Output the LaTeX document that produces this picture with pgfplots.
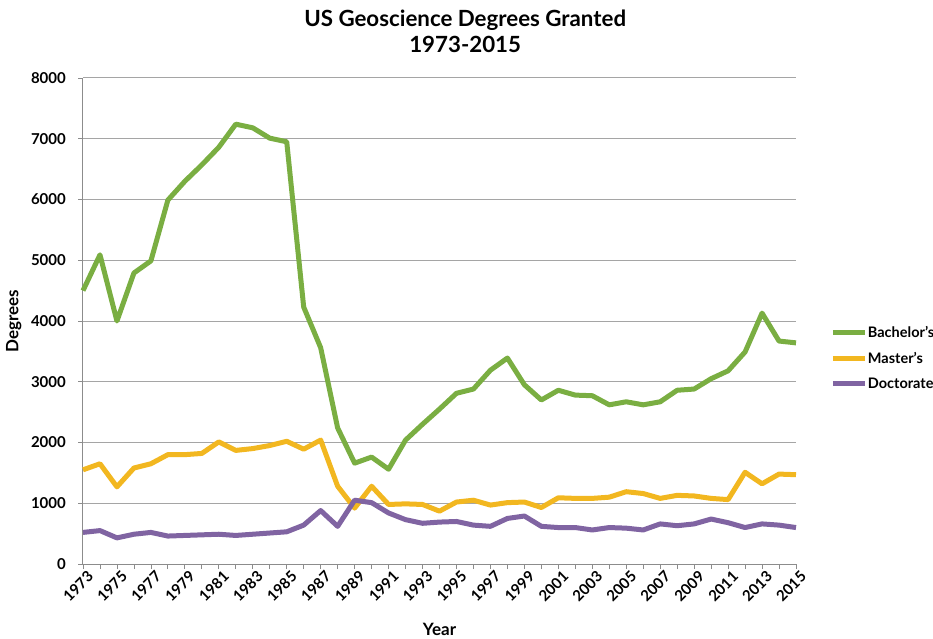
\documentclass[border=0pt]{standalone}
\usepackage{pgfplots}
\pgfplotsset{compat=1.18}
\usepackage{fontspec}
\setmainfont{Lato}
\definecolor{cB}{RGB}{122,174,66}
\definecolor{cM}{RGB}{242,183,32}
\definecolor{cD}{RGB}{128,100,162}
\definecolor{gridc}{RGB}{165,165,165}
\definecolor{axc}{RGB}{140,140,140}
\begin{document}
\begin{tikzpicture}
\begin{axis}[
  scale only axis,
  width=713bp, height=486bp,
  xmin=1973, xmax=2015, ymin=0, ymax=8000,
  axis lines*=left,
  axis line style={axc, line width=1bp},
  xtick={1973,1975,...,2015},
  minor xtick={1974,1976,...,2014},
  ytick={0,1000,...,8000},
  tick align=outside,
  major tick length=5bp, minor tick length=5bp,
  tick style={axc, line width=0.8bp},
  ymajorgrids,
  grid style={gridc, line width=1bp},
  /pgf/number format/assume math mode=true,
  xticklabel={\pgfmathprintnumber[1000 sep={}]{\tick}},
  yticklabel={\pgfmathprintnumber[1000 sep={}]{\tick}},
  ticklabel style={font=\fontsize{15bp}{17bp}\selectfont\bfseries},
  xticklabel style={rotate=45, anchor=north east, inner sep=1bp, xshift=3bp, yshift=-2bp},
  yticklabel style={inner sep=2bp, xshift=-10bp},
  xlabel={Year}, ylabel={Degrees},
  label style={font=\fontsize{17bp}{19bp}\selectfont\bfseries},
  xlabel style={at={(0.5,-0.134)}, anchor=center},
  ylabel style={at={(-0.097,0.5)}, anchor=center},
  title style={font=\fontsize{22.3bp}{26bp}\selectfont\bfseries, align=center, anchor=south,
    at={(0.536,1)}, yshift=16bp},
  title={US Geoscience Degrees Granted\\1973-2015},
  legend style={draw=none, fill=none, at={(1.048,0.424)}, anchor=west,
    font=\fontsize{14.5bp}{16bp}\selectfont\bfseries, row sep=12bp, inner sep=0pt,
    nodes={inner sep=0.5bp}},
  legend cell align=left,
  legend image code/.code={\draw[#1, line width=5bp] (0bp,0bp) -- (32bp,0bp);},
  every axis plot/.append style={line width=5bp, line join=round, no markers},
  clip=false,
]
\addplot[cB] coordinates {
(1973,4500)(1974,5090)(1975,4000)(1976,4790)(1977,4990)(1978,5990)(1979,6300)
(1980,6570)(1981,6860)(1982,7240)(1983,7180)(1984,7010)(1985,6950)(1986,4230)
(1987,3560)(1988,2240)(1989,1660)(1990,1760)(1991,1560)(1992,2040)(1993,2300)
(1994,2550)(1995,2810)(1996,2880)(1997,3190)(1998,3390)(1999,2950)(2000,2700)
(2001,2860)(2002,2780)(2003,2770)(2004,2620)(2005,2670)(2006,2620)(2007,2670)
(2008,2860)(2009,2880)(2010,3050)(2011,3180)(2012,3490)(2013,4130)(2014,3670)(2015,3640)};
\addlegendentry{Bachelor's}
\addplot[cM] coordinates {
(1973,1550)(1974,1650)(1975,1270)(1976,1580)(1977,1650)(1978,1800)(1979,1800)
(1980,1820)(1981,2010)(1982,1870)(1983,1900)(1984,1950)(1985,2020)(1986,1890)
(1987,2040)(1988,1280)(1989,920)(1990,1280)(1991,980)(1992,990)(1993,980)
(1994,870)(1995,1020)(1996,1050)(1997,970)(1998,1010)(1999,1020)(2000,930)
(2001,1090)(2002,1080)(2003,1080)(2004,1100)(2005,1190)(2006,1160)(2007,1080)
(2008,1130)(2009,1120)(2010,1080)(2011,1060)(2012,1510)(2013,1320)(2014,1480)(2015,1470)};
\addlegendentry{Master's}
\addplot[cD] coordinates {
(1973,520)(1974,550)(1975,430)(1976,490)(1977,520)(1978,460)(1979,470)
(1980,480)(1981,490)(1982,470)(1983,490)(1984,510)(1985,530)(1986,640)
(1987,880)(1988,620)(1989,1050)(1990,1010)(1991,840)(1992,730)(1993,670)
(1994,690)(1995,700)(1996,640)(1997,620)(1998,750)(1999,790)(2000,620)
(2001,600)(2002,600)(2003,560)(2004,600)(2005,590)(2006,560)(2007,660)
(2008,630)(2009,660)(2010,740)(2011,680)(2012,600)(2013,660)(2014,640)(2015,600)};
\addlegendentry{Doctorate}
\coordinate (O) at (rel axis cs:0,0);
\end{axis}
\pgfresetboundingbox
\path[use as bounding box] (O) ++(-83bp,-75bp) rectangle ++(933bp,639bp);
\end{tikzpicture}
\end{document}
